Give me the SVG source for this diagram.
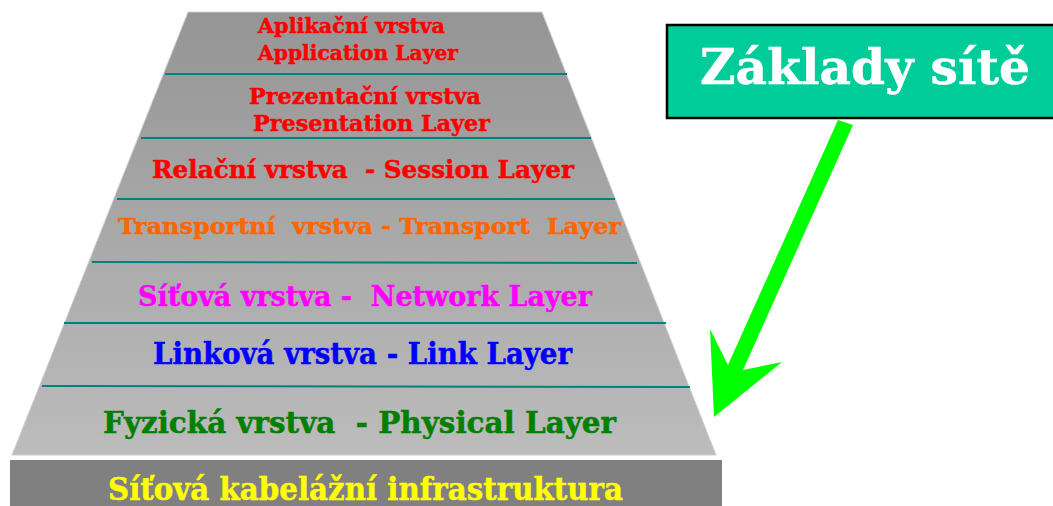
<svg xmlns="http://www.w3.org/2000/svg" width="1053" height="506" viewBox="0 0 1053 506">
<defs>
<linearGradient id="g" x1="0" y1="0" x2="0" y2="1">
<stop offset="0" stop-color="#959595"/>
<stop offset="1" stop-color="#bcbcbc"/>
</linearGradient>
<style>
.t{font-family:"DejaVu Serif","Liberation Serif",serif;font-weight:bold;stroke-width:0.5;}
.sep{stroke:#008080;stroke-width:2;}
</style>
</defs>
<rect width="1053" height="506" fill="#ffffff"/>
<g id="pyramid">
<polygon points="188,12 542,12 716,455 12,455" fill="url(#g)" stroke="#d0d0d0" stroke-width="1"/>
</g>
<g id="separators">
<line class="sep" x1="165" y1="74" x2="567" y2="74"/>
<line class="sep" x1="141" y1="138" x2="591" y2="138"/>
<line class="sep" x1="117" y1="199" x2="615" y2="199"/>
<line class="sep" x1="92" y1="262" x2="637" y2="263"/>
<line class="sep" x1="64" y1="323" x2="666" y2="323"/>
<line class="sep" x1="42" y1="386" x2="690" y2="387"/>
</g>
<g id="app" class="t" fill="#ff0000" stroke="#ff0000" font-size="21">
<text x="258" y="33" textLength="187" lengthAdjust="spacingAndGlyphs">Aplikační vrstva</text>
<text x="258" y="60" textLength="200" lengthAdjust="spacingAndGlyphs">Application Layer</text>
</g>
<g id="pres" class="t" fill="#ff0000" stroke="#ff0000" font-size="22">
<text x="249" y="104" textLength="232" lengthAdjust="spacingAndGlyphs">Prezentační vrstva</text>
<text x="253" y="131" textLength="237" lengthAdjust="spacingAndGlyphs">Presentation Layer</text>
</g>
<g id="session" class="t" fill="#ff0000" stroke="#ff0000" font-size="24">
<text x="152" y="178" textLength="422" lengthAdjust="spacingAndGlyphs" xml:space="preserve">Relační vrstva  - Session Layer</text>
</g>
<g id="transport" class="t" fill="#ff6600" stroke="#ff6600" font-size="23">
<text x="118" y="234" textLength="503" lengthAdjust="spacingAndGlyphs" xml:space="preserve">Transportní  vrstva - Transport  Layer</text>
</g>
<g id="network" class="t" fill="#ff00ff" stroke="#ff00ff" font-size="27">
<text x="138" y="306" textLength="454" lengthAdjust="spacingAndGlyphs" xml:space="preserve">Síťová vrstva -  Network Layer</text>
</g>
<g id="link" class="t" fill="#0000ff" stroke="#0000ff" font-size="29">
<text x="153" y="364" textLength="419" lengthAdjust="spacingAndGlyphs">Linková vrstva - Link Layer</text>
</g>
<g id="physical" class="t" fill="#008000" stroke="#008000" font-size="30">
<text x="103" y="433" textLength="513" lengthAdjust="spacingAndGlyphs" xml:space="preserve">Fyzická vrstva  - Physical Layer</text>
</g>
<g id="cabling">
<rect x="10" y="460" width="712" height="46" fill="#808080"/>
<text class="t" x="108" y="500" fill="#ffff00" stroke="#ffff00" font-size="32" textLength="515" lengthAdjust="spacingAndGlyphs">Síťová kabelážní infrastruktura</text>
</g>
<g id="title">
<rect x="667" y="25" width="392" height="93" fill="#00cc99" stroke="#000000" stroke-width="2.5"/>
<text class="t" x="700" y="84" fill="#ffffff" stroke="#ffffff" font-size="48" textLength="330" lengthAdjust="spacingAndGlyphs">Základy sítě</text>
</g>
<g id="connectors">
<polygon points="838,120 853,125 743,370 782,362 714,417 710,329 728,365" fill="#00ff00"/>
</g>
</svg>
